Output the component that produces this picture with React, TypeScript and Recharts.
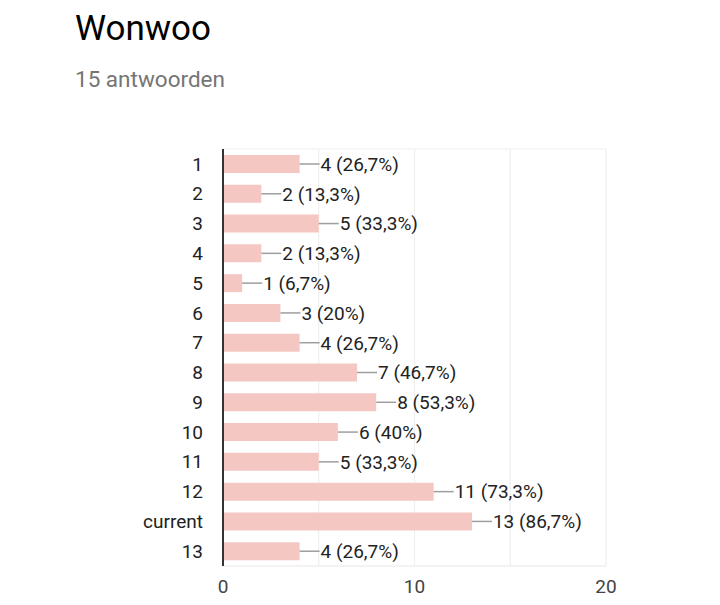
import React from "react";
import { BarChart, Bar, XAxis, YAxis, CartesianGrid, LabelList } from "recharts";

const categories = ["1", "2", "3", "4", "5", "6", "7", "8", "9", "10", "11", "12", "current", "13"];
const counts = [4, 2, 5, 2, 1, 3, 4, 7, 8, 6, 5, 11, 13, 4];
const percents = ["26,7%", "13,3%", "33,3%", "13,3%", "6,7%", "20%", "26,7%", "46,7%", "53,3%", "40%", "33,3%", "73,3%", "86,7%", "26,7%"];
const xTicks = [0, 5, 10, 15, 20];
const xTickLabels = ["0", "", "10", "", "20"];

const chartData = categories.map((name, i) => ({
  name,
  count: counts[i],
  label: `${counts[i]} (${percents[i]})`,
}));

const FONT = "Roboto, 'Noto Sans', sans-serif";

const BarLabel = (props: any) => {
  const { x, y, width, height, index } = props;
  const endX = x + width;
  const midY = y + height / 2;
  return (
    <g>
      <line x1={endX} y1={midY} x2={endX + 20} y2={midY} stroke="#9e9e9e" strokeWidth={1.5} />
      <text x={endX + 21} y={midY} dy="0.36em" fontSize={19} fill="#222" fontFamily={FONT}>
        {chartData[index].label}
      </text>
    </g>
  );
};

export default function App() {
  return (
    <div style={{ position: "absolute", left: 0, top: 0, width: 720, height: 605, background: "#fff", fontFamily: FONT }}>
      <div style={{ position: "absolute", left: 75, top: 8, fontSize: 35, color: "#000" }}>Wonwoo</div>
      <div style={{ position: "absolute", left: 75, top: 66, fontSize: 22.5, color: "#757575" }}>15 antwoorden</div>
      <div style={{ position: "absolute", left: 0, top: 0 }}>
        <BarChart
          width={720}
          height={605}
          data={chartData}
          layout="vertical"
          margin={{ top: 149, right: 114, bottom: 9, left: 0 }}
          barCategoryGap={0}
        >
          <CartesianGrid stroke="#efefef" strokeWidth={1.2} horizontalPoints={[149, 566]} />
          <XAxis
            type="number"
            domain={[0, 20]}
            ticks={xTicks}
            tickFormatter={(v: number) => xTickLabels[xTicks.indexOf(v)]}
            height={30}
            tickLine={false}
            axisLine={{ stroke: "#efefef", strokeWidth: 1.2 }}
            tickMargin={8}
            tick={{ fontSize: 19, fill: "#444", fontFamily: FONT }}
          />
          <YAxis
            type="category"
            dataKey="name"
            width={223}
            tickLine={false}
            axisLine={{ stroke: "#333", strokeWidth: 2 }}
            tickMargin={14}
            interval={0}
            tick={{ fontSize: 19, fill: "#222", fontFamily: FONT }}
          />
          <Bar dataKey="count" fill="#f4c7c3" barSize={18} isAnimationActive={false}>
            <LabelList dataKey="label" content={BarLabel} />
          </Bar>
        </BarChart>
      </div>
    </div>
  );
}
